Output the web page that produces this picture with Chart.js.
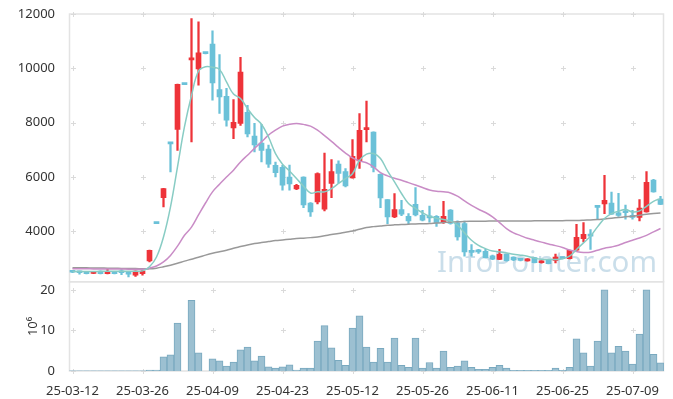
<!DOCTYPE html>
<html><head><meta charset="utf-8">
<script src="https://cdn.jsdelivr.net/npm/chart.js@4.4.1/dist/chart.umd.min.js"></script>
<style>html,body{margin:0;padding:0;background:#fff;}#wrap{width:673px;height:399px;}</style>
</head><body><div id="wrap"><canvas id="c" width="673" height="399"></canvas></div>
<script>
const dates = ['25-03-12','25-03-13','25-03-14','25-03-17','25-03-18','25-03-19','25-03-20','25-03-21','25-03-24','25-03-25',
'25-03-26','25-03-27','25-03-28','25-03-31','25-04-01','25-04-02','25-04-03','25-04-04','25-04-07','25-04-08',
'25-04-09','25-04-10','25-04-11','25-04-14','25-04-15','25-04-16','25-04-17','25-04-18','25-04-21','25-04-22',
'25-04-23','25-04-24','25-04-25','25-04-28','25-04-29','25-04-30','25-05-02','25-05-07','25-05-08','25-05-09',
'25-05-12','25-05-13','25-05-14','25-05-15','25-05-16','25-05-19','25-05-20','25-05-21','25-05-22','25-05-23',
'25-05-26','25-05-27','25-05-28','25-05-29','25-05-30','25-06-02','25-06-04','25-06-05','25-06-09','25-06-10',
'25-06-11','25-06-12','25-06-13','25-06-16','25-06-17','25-06-18','25-06-19','25-06-20','25-06-23','25-06-24',
'25-06-25','25-06-26','25-06-27','25-06-30','25-07-01','25-07-02','25-07-03','25-07-04','25-07-07','25-07-08',
'25-07-09','25-07-10','25-07-11','25-07-14','25-07-15'];

const opens = [2510,2490,2500,2450,2530,2440,2500,2490,2460,2380,
2440,2910,4300,5240,7240,7750,9420,10310,9980,10560,
10890,9220,8970,7805,7970,8380,7500,7250,7030,6430,
6350,5990,5560,5990,5040,5080,4810,5760,6470,6200,
5960,6590,7740,7650,6100,5170,4530,4800,4550,4990,
4590,4550,4550,4320,4780,4310,4280,3240,3300,3260,
3090,2960,3150,3050,2990,2910,3030,2840,2960,2930,
3030,2990,3300,3730,3840,4900,5010,5040,4680,4700,
4590,4505,4710,5880,5180];
const highs = [2560,2530,2510,2490,2540,2600,2510,2590,2470,2540,
2560,3310,4300,5580,7240,9420,9420,11830,11710,10560,
11380,10510,9260,8850,10400,8640,7970,7940,7170,6550,
6430,6440,5730,6000,5060,6150,6880,6640,6590,6310,
7380,8335,8790,7660,6110,5170,5390,5140,4650,5610,
4770,4930,4580,5100,4800,4380,4370,3510,3330,3330,
3120,3330,3160,3060,3000,2990,3040,2910,2970,3160,
3050,3310,4250,4320,4060,4900,6060,5440,5400,4960,
4770,5170,6200,5910,5290];
const lows = [2470,2420,2430,2440,2430,2430,2430,2400,2320,2340,
2380,2870,4280,4900,6180,6980,9400,7290,9380,10530,
8830,8340,7870,7410,7900,7470,6920,6550,6350,6000,
5510,5510,5530,4870,4550,5010,4750,5240,5780,5630,
5950,6310,7290,6180,4870,4280,4500,4570,4280,4560,
4380,4330,4180,4290,4260,3670,3080,3080,3180,3020,
2950,2950,2900,2920,2910,2900,2830,2820,2800,2830,
2980,2980,3290,3610,3330,4430,4650,4620,4550,4440,
4440,4380,4700,5440,4980];
const closes = [2490,2470,2440,2480,2440,2500,2440,2470,2420,2530,
2530,3300,4280,5570,7220,9410,9400,10350,10570,10540,
9460,8950,8090,8015,9860,7580,7180,6980,6470,6160,
5700,5740,5690,4970,4710,6125,5540,6200,6125,5670,
6760,7720,7770,6350,5230,4530,4800,4630,4380,4600,
4410,4490,4320,4550,4290,3790,3240,3220,3240,3030,
2970,3150,2920,2940,2930,2980,2840,2900,2810,3050,
2990,3300,3780,3890,3820,4880,5140,4630,4580,4680,
4510,4850,5800,5450,4990];

const volume = [0.05,0.05,0.05,0.05,0.05,0.05,0.05,0.05,0.05,0.05,
0.05,0.25,0.25,3.5,4.0,11.8,0,17.4,4.5,0,
3.0,2.5,1.2,2.2,5.2,5.9,2.5,3.7,1.0,0.7,
1.0,1.5,0.25,0.75,0.75,7.4,11.2,5.7,2.6,1.4,
10.6,13.6,5.9,2.2,5.6,2.2,8.1,1.4,0.9,8.1,
0.7,2.1,0.7,4.9,0.9,1.2,2.5,0.9,0.4,0.4,
0.9,1.4,0.7,0.15,0.15,0.15,0.15,0.15,0.15,0.7,
0.15,0.9,7.9,4.5,1.2,7.4,20.0,4.5,6.1,4.9,
1.7,9.1,20.0,4.1,2.0];

const ma5 = [2520,2520,2520,2520,2520,2525,2525,2525,2525,2530,
2540,2690,3050,3790,4900,6370,7850,9000,9900,10060,
10040,9960,9500,9050,8890,8520,8190,7940,7470,6860,
6470,6220,5940,5660,5410,5450,5450,5570,5760,5940,
6120,6610,6840,6860,6680,6220,5820,5390,5020,4840,
4680,4550,4480,4430,4380,4220,3940,3670,3480,3360,
3270,3240,3200,3150,3120,3080,3010,2970,2960,2960,
2990,3080,3330,3570,3820,4160,4470,4650,4740,4800,
4710,4750,4920,5100,5200];
const ma20 = [2620,2618,2616,2614,2612,2610,2608,2606,2604,2602,
2600,2640,2720,2870,3110,3450,3850,4150,4600,5040,
5450,5730,6000,6250,6550,6800,7050,7290,7540,7720,
7870,7940,7970,7935,7870,7720,7520,7310,7090,6880,
6700,6590,6520,6370,6160,6040,5950,5880,5790,5700,
5610,5520,5470,5450,5410,5290,5120,4950,4810,4690,
4530,4320,4100,3940,3840,3740,3670,3600,3530,3470,
3400,3310,3250,3215,3225,3300,3375,3420,3485,3585,
3670,3750,3850,3975,4100];
const ma60 = [2660,2656,2652,2648,2644,2640,2636,2632,2628,2624,
2620,2615,2640,2690,2750,2820,2900,2970,3040,3120,
3190,3245,3300,3375,3435,3495,3545,3585,3620,3655,
3680,3705,3730,3745,3765,3790,3830,3880,3915,3965,
4010,4075,4135,4170,4195,4220,4235,4245,4258,4270,
4275,4285,4305,4320,4333,4345,4358,4365,4370,4372,
4375,4377,4378,4380,4380,4380,4382,4383,4385,4387,
4390,4392,4395,4405,4418,4430,4455,4480,4505,4530,
4552,4590,4625,4650,4675];

const priceTicks = [4000,6000,8000,10000,12000];
const volTicks = [0,10,20];

const UP = '#ee3339', DOWN = '#6bc1d8';
const candleColors = opens.map((o,i)=> closes[i] >= o ? UP : DOWN);
const FONT = "'Noto Sans', sans-serif";

const decor = {
  id: 'decor',
  beforeDatasetsDraw(chart) {
    const {ctx, chartArea, scales} = chart;
    const x = scales.x, y = scales.y, yv = scales.yv;
    ctx.save();
    // watermark
    const txt = 'InfoPointer.com';
    ctx.font = '32px ' + FONT;
    const w = ctx.measureText(txt).width;
    const fs = 32 * 220 / w;
    ctx.font = fs + 'px ' + FONT;
    ctx.fillStyle = 'rgba(150,190,214,0.5)';
    ctx.textAlign = 'right';
    ctx.textBaseline = 'alphabetic';
    ctx.fillText(txt, chartArea.right - 7, y.bottom - 10);
    // panel borders
    ctx.strokeStyle = '#e3e3e3';
    ctx.lineWidth = 1.5;
    ctx.strokeRect(chartArea.left + 0.5, y.top, chartArea.right - chartArea.left - 1, y.bottom - y.top);
    ctx.strokeRect(chartArea.left + 0.5, yv.top, chartArea.right - chartArea.left - 1, yv.bottom - yv.top);
    // cross markers
    ctx.strokeStyle = '#dadada';
    ctx.lineWidth = 1;
    const xs = [];
    dates.forEach((d,i)=>{ if (i % 10 === 0) xs.push(Math.round(x.getPixelForValue(i)) + 0.5); });
    const ys = priceTicks.map(v=>Math.round(y.getPixelForValue(v)) + 0.5)
      .concat(volTicks.map(v=>Math.round(yv.getPixelForValue(v)) + 0.5));
    ctx.beginPath();
    xs.forEach(px=>ys.forEach(py=>{
      ctx.moveTo(px-2.5, py); ctx.lineTo(px+2.5, py);
      ctx.moveTo(px, py-2.5); ctx.lineTo(px, py+2.5);
    }));
    ctx.stroke();
    ctx.restore();
  }
};

new Chart(document.getElementById('c'), {
  type: 'bar',
  data: {
    labels: dates,
    datasets: [
      { type:'line', label:'MA5', data: ma5, yAxisID:'y', borderColor:'#88ccc4', borderWidth:1.5, pointRadius:0, tension:0.4, order:0 },
      { type:'line', label:'MA20', data: ma20, yAxisID:'y', borderColor:'#c98cc6', borderWidth:1.5, pointRadius:0, tension:0.4, order:0 },
      { type:'line', label:'MA60', data: ma60, yAxisID:'y', borderColor:'#999999', borderWidth:1.5, pointRadius:0, tension:0.4, order:0 },
      { type:'bar', label:'wick', data: lows.map((l,i)=>[l, highs[i]]), yAxisID:'y', backgroundColor: candleColors, barThickness:1.6, grouped:false, borderWidth:0, order:2 },
      { type:'bar', label:'body', data: opens.map((o,i)=>[o, closes[i]]), yAxisID:'y', backgroundColor: candleColors, barThickness:5, grouped:false, borderWidth:0, minBarLength:2, order:1 },
      { type:'bar', label:'volume', data: volume, yAxisID:'yv', backgroundColor:'#9cc0d1', borderColor:'#79a9bf', borderWidth:1, barPercentage:1, categoryPercentage:1, grouped:false, order:3 }
    ]
  },
  options: {
    responsive:false, animation:false, devicePixelRatio:1,
    layout:{ padding:{ top:14, right:9, left:0, bottom:0 } },
    plugins:{ legend:{display:false}, tooltip:{enabled:false} },
    scales:{
      x:{ type:'category', offset:true,
          grid:{display:false}, border:{display:false},
          ticks:{ autoSkip:false, maxRotation:0, minRotation:0, padding:4, color:'#333',
                  font:{family:FONT, size:13},
                  callback:(v,i)=> (i % 10 === 0 ? dates[i] : '') },
          afterFit:(s)=>{ s.height = 28; } },
      yv:{ type:'linear', position:'left', stack:'s', stackWeight:1, min:0, max:22,
           grid:{display:false}, border:{display:false},
           afterBuildTicks:(a)=>{ a.ticks = volTicks.map(v=>({value:v})); },
           ticks:{ padding:6, color:'#333', font:{family:FONT, size:13}, callback:(v)=>String(v) },
           title:{ display:true, text:'10⁶', color:'#333', font:{family:FONT, size:13}, padding:{top:25, bottom:0} },
           afterFit:(s)=>{ s.width = 69; } },
      y:{ type:'linear', position:'left', stack:'s', stackWeight:3, min:2140, max:12000,
          grid:{display:false}, border:{display:false},
          afterBuildTicks:(a)=>{ a.ticks = priceTicks.map(v=>({value:v})); },
          ticks:{ padding:6, color:'#333', font:{family:FONT, size:13}, callback:(v)=>String(v) },
          afterFit:(s)=>{ s.width = 69; } }
    }
  },
  plugins:[decor]
});
</script>
</body></html>
